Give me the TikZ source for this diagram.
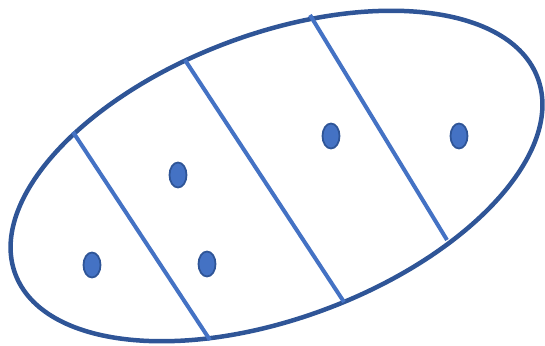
\documentclass[tikz,border=0pt]{standalone}
\definecolor{outline}{HTML}{2F5597}
\definecolor{divider}{HTML}{4472C4}
\begin{document}
\begin{tikzpicture}[x=1pt, y=-1pt]
    \useasboundingbox (0,0) rectangle (545,345);

    % Outer region (tilted ellipse)
    \draw[line width=4.5pt, outline, rotate around={20.6:(276.5,176)}] (276.5,176) ellipse (279pt and 142pt);

    % Dividing lines
    \draw[line width=4pt, divider] (73,132) -- (210,340);
    \draw[line width=4pt, divider] (185,60) -- (344,302);
    \draw[line width=4pt, divider] (310,15) -- (447,240);

    % Points
    \foreach \px/\py in {92/265, 178/175, 207/264, 331/136, 459/136} {
        \draw[line width=1.8pt, outline, fill=divider] (\px,\py) ellipse (8.5pt and 12.5pt);
    }
\end{tikzpicture}
\end{document}
